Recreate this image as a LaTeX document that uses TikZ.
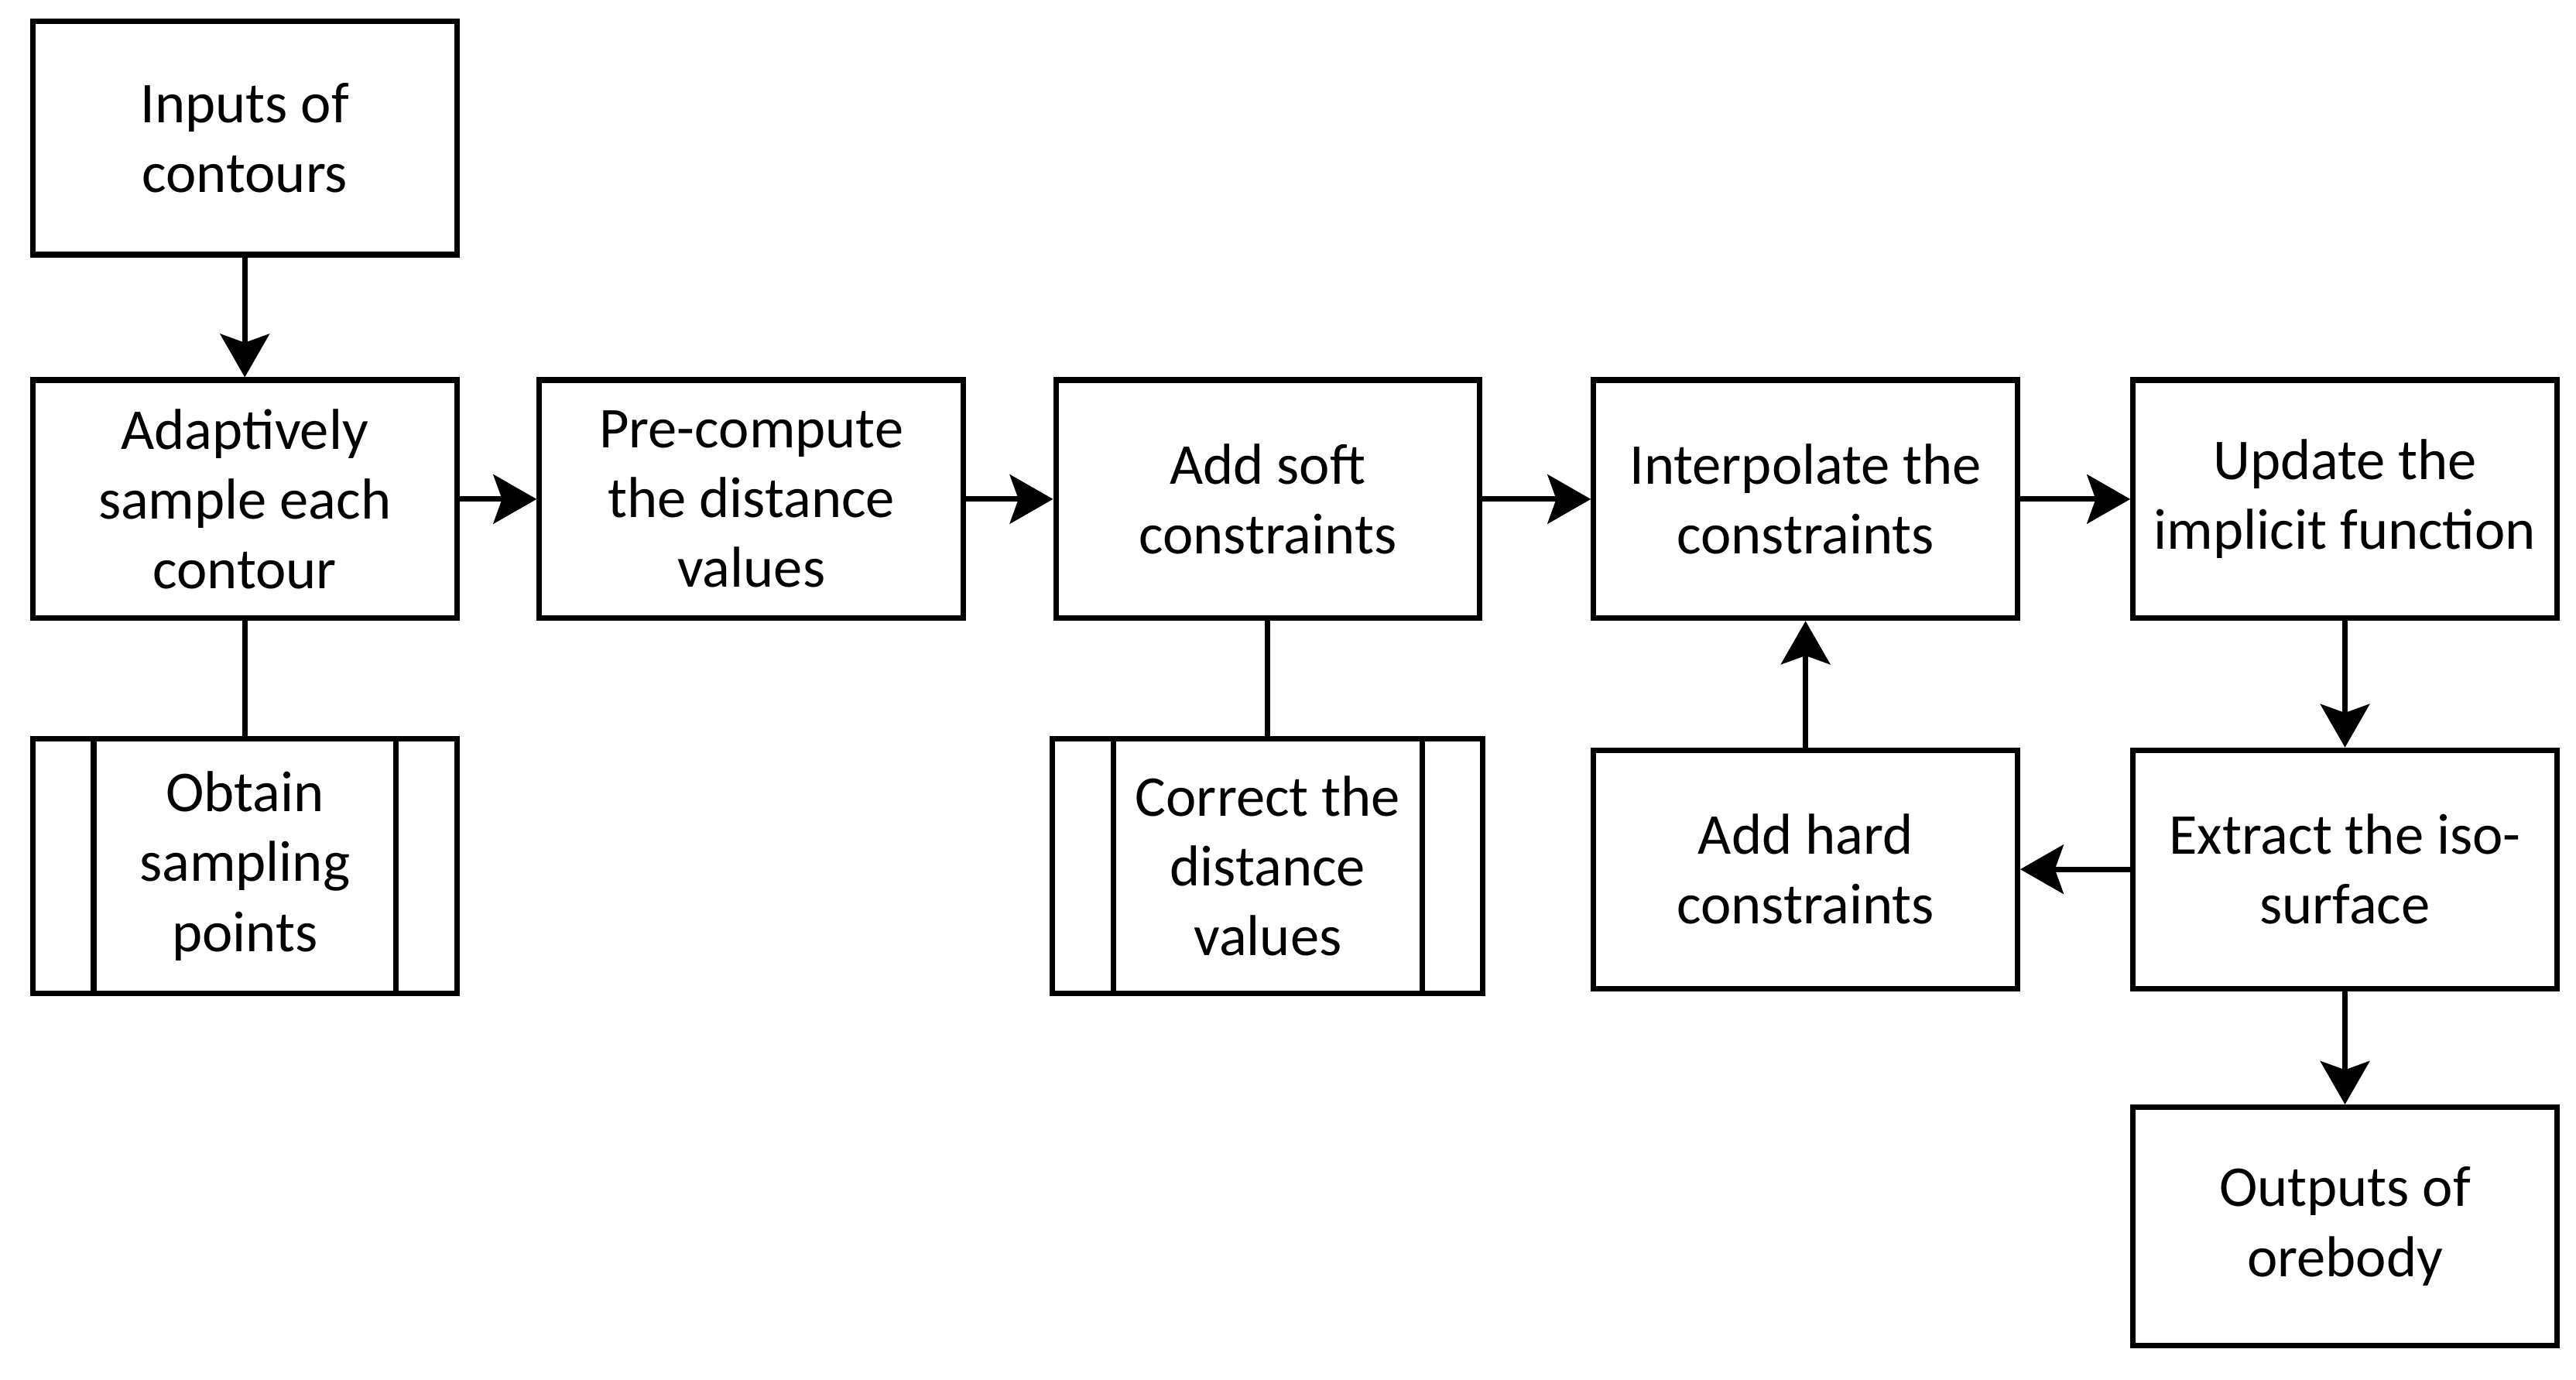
\documentclass[tikz,border=0pt]{standalone}
\usepackage{fontspec}
\setmainfont{Carlito}
\usepackage{tikz}
\usetikzlibrary{positioning, arrows.meta}
\tikzstyle{process} = [rectangle, minimum width=5.16cm, minimum height=2.9cm, text centered, align=center, draw=black, line width=1.9pt, font=\fontsize{20}{24.2}\selectfont]
\tikzstyle{subprocess} = [process, minimum height=3.1cm, path picture={
    \draw[line width=1.9pt] ([xshift=0.74cm]path picture bounding box.north west) -- ([xshift=0.74cm]path picture bounding box.south west)
        ([xshift=-0.74cm]path picture bounding box.north east) -- ([xshift=-0.74cm]path picture bounding box.south east);}]
\tikzstyle{arrow} = [line width=1.9pt, -{Stealth[length=15pt, width=17pt, inset=3pt]}]
\tikzstyle{line} = [line width=1.9pt]

\begin{document}
\begin{tikzpicture}

        \useasboundingbox (0,0) rectangle (31.36,-16.8);

        % Nodes
        \node (inputs) [process, minimum height=2.84cm] at (2.98,-1.68) {Inputs of\\contours};
        \node (adapt) [process, below=1.46cm of inputs] {Adaptively\\sample each\\contour};
        \node (obtain) [subprocess, below=1.4cm of adapt] {Obtain\\sampling\\points};
        \node (precomp) [process, right=0.94cm of adapt] {Pre-compute\\the distance\\values};
        \node (soft) [process, right=1.06cm of precomp] {Add soft\\constraints};
        \node (correct) [subprocess, minimum width=5.24cm, below=1.4cm of soft] {Correct the\\distance\\values};
        \node (interp) [process, right=1.32cm of soft] {Interpolate the\\constraints};
        \node (update) [process, right=1.34cm of interp] {Update the\\implicit function};
        \node (extract) [process, below=1.54cm of update] {Extract the iso-\\surface};
        \node (hard) [process, left=1.34cm of extract] {Add hard\\constraints};
        \node (outputs) [process, below=1.38cm of extract] {Outputs of\\orebody};

        % Arrows
        \draw [arrow] (inputs) -- (adapt);
        \draw [line] (adapt) -- (obtain);
        \draw [arrow] (adapt) -- (precomp);
        \draw [arrow] (precomp) -- (soft);
        \draw [line] (soft) -- (correct);
        \draw [arrow] (soft) -- (interp);
        \draw [arrow] (interp) -- (update);
        \draw [arrow] (update) -- (extract);
        \draw [arrow] (extract) -- (hard);
        \draw [arrow] (hard) -- (interp);
        \draw [arrow] (extract) -- (outputs);

\end{tikzpicture}
\end{document}
